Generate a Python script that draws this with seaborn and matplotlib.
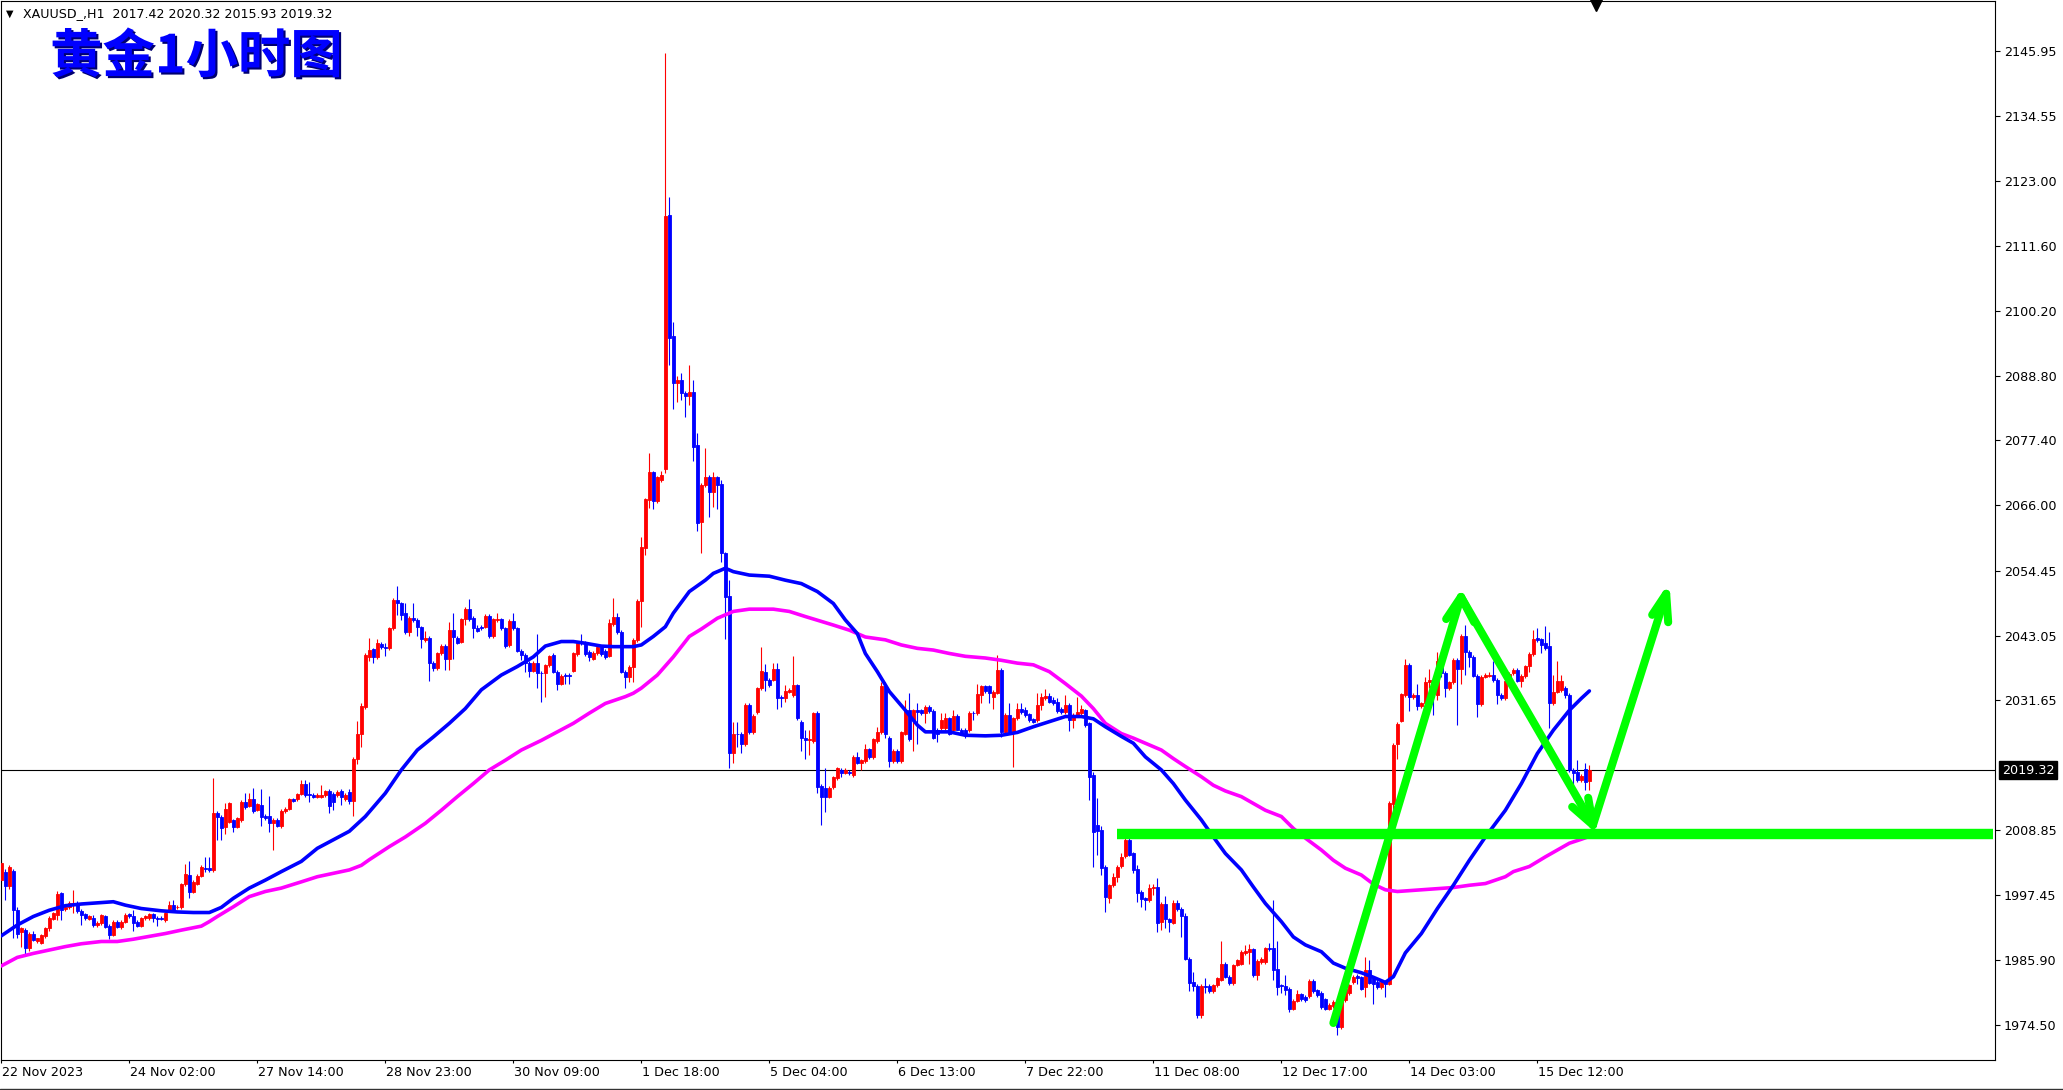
import numpy as np
import matplotlib
matplotlib.use("Agg")
import matplotlib.pyplot as plt
import matplotlib.patheffects as pe
import matplotlib.transforms as mtransforms
from matplotlib.lines import Line2D
import seaborn as sns

# XAUUSD H1 candles, bar 0 = first visible bar
opens = [
    2000.0, 2001.5, 1998.9, 2001.6, 1994.7, 1990.8, 1991.2, 1988.0, 1990.5, 1989.2,
    1989.0, 1990.1, 1991.5, 1993.2, 1993.9, 1997.7, 1995.0, 1995.3, 1995.6, 1996.0,
    1994.6, 1994.0, 1993.2, 1993.4, 1992.1, 1992.4, 1993.6, 1991.9, 1990.3, 1992.7,
    1991.7, 1992.7, 1994.0, 1993.7, 1992.6, 1992.0, 1993.3, 1993.3, 1994.0, 1993.4,
    1993.3, 1993.0, 1994.7, 1995.6, 1995.2, 1995.2, 1999.3, 2000.9, 1998.0, 1999.4,
    2000.8, 2002.2, 2002.2, 2001.8, 2011.9, 2011.2, 2009.3, 2010.3, 2010.5, 2009.4,
    2010.6, 2013.8, 2013.1, 2014.2, 2012.4, 2013.2, 2011.3, 2011.3, 2010.0, 2010.6,
    2009.5, 2012.1, 2012.6, 2014.2, 2014.2, 2015.2, 2016.9, 2015.2, 2015.0, 2014.7,
    2014.7, 2014.9, 2015.7, 2015.2, 2015.0, 2015.7, 2014.3, 2015.6, 2014.0, 2021.3,
    2025.8, 2030.5, 2039.3, 2040.6, 2039.2, 2041.6, 2041.0, 2040.8, 2044.3, 2049.3,
    2048.7, 2047.0, 2043.7, 2046.2, 2045.8, 2044.5, 2042.2, 2042.6, 2038.2, 2037.3,
    2039.9, 2041.2, 2038.9, 2044.1, 2042.7, 2042.0, 2045.9, 2047.7, 2046.2, 2044.3,
    2044.6, 2044.6, 2046.5, 2043.0, 2045.8, 2045.9, 2044.3, 2041.4, 2045.7, 2044.3,
    2040.4, 2039.6, 2038.2, 2036.9, 2038.2, 2036.5, 2036.4, 2037.8, 2039.6, 2036.7,
    2034.6, 2036.1, 2036.1, 2036.9, 2039.8, 2041.8, 2041.8, 2040.2, 2039.0, 2040.0,
    2041.0, 2040.4, 2039.5, 2045.1, 2046.4, 2043.7, 2036.7, 2035.8, 2037.5, 2042.3,
    2049.2, 2058.5, 2066.9, 2071.8, 2066.7, 2070.4, 2072.4, 2117.1, 2095.8, 2087.5,
    2088.1, 2085.8, 2085.3, 2086.0, 2076.6, 2063.1, 2069.5, 2071.0, 2068.4, 2070.9,
    2069.8, 2057.5, 2050.0, 2022.4, 2025.8, 2025.8, 2024.0, 2030.8, 2026.0, 2029.6,
    2033.8, 2036.6, 2035.3, 2035.3, 2037.1, 2032.3, 2032.0, 2033.2, 2032.6, 2034.3,
    2027.9, 2025.0, 2024.7, 2024.5, 2029.4, 2016.6, 2016.2, 2014.7, 2016.4, 2017.9,
    2019.4, 2018.9, 2019.1, 2018.5, 2021.7, 2020.7, 2020.9, 2023.0, 2021.7, 2024.5,
    2026.0, 2034.1, 2025.1, 2020.9, 2022.8, 2021.0, 2025.8, 2029.9, 2028.2, 2029.9,
    2029.9, 2029.4, 2030.5, 2029.8, 2026.5, 2026.7, 2026.7, 2028.5, 2026.4, 2028.9,
    2026.5, 2026.5, 2026.4, 2029.5, 2029.4, 2032.6, 2034.1, 2034.1, 2032.3, 2033.0,
    2037.0, 2026.0, 2029.1, 2026.0, 2028.5, 2030.2, 2029.9, 2029.2, 2028.3, 2028.2,
    2030.8, 2032.0, 2032.4, 2031.7, 2031.4, 2030.2, 2029.6, 2030.8, 2028.2, 2029.1,
    2029.4, 2029.9, 2027.6, 2018.5, 2009.7, 2008.8, 2002.4, 1996.8, 1999.1, 2000.5,
    2002.5, 2004.2, 2007.1, 2004.7, 2001.9, 1998.0, 1996.8, 1996.5, 1998.7, 1998.8,
    1992.7, 1995.8, 1993.1, 1992.5, 1996.0, 1995.0, 1993.6, 1986.2, 1982.1, 1981.4,
    1976.3, 1981.4, 1981.4, 1980.4, 1981.5, 1982.5, 1985.3, 1983.0, 1981.9, 1985.1,
    1985.3, 1987.2, 1987.4, 1987.8, 1983.3, 1985.6, 1985.6, 1988.0, 1988.0, 1984.3,
    1981.5, 1981.4, 1980.9, 1977.4, 1978.8, 1979.9, 1979.4, 1979.6, 1982.3, 1980.6,
    1980.1, 1979.0, 1977.4, 1977.8, 1978.6, 1974.1, 1978.9, 1980.1, 1982.1, 1983.1,
    1982.9, 1981.2, 1984.2, 1982.7, 1982.1, 1981.2, 1982.2, 1981.8, 2013.4, 2024.0,
    2028.1, 2032.6, 2037.9, 2032.2, 2032.6, 2030.6, 2031.1, 2034.9, 2035.2, 2032.6,
    2038.5, 2036.5, 2033.8, 2034.9, 2038.8, 2037.1, 2043.0, 2040.2, 2039.3, 2035.9,
    2031.0, 2035.8, 2036.0, 2036.1, 2035.2, 2032.6, 2032.0, 2035.1, 2036.4, 2037.0,
    2035.1, 2035.9, 2037.7, 2039.8, 2042.6, 2042.4, 2041.7, 2041.2, 2031.2, 2033.2,
    2033.5, 2033.8, 2032.6, 2019.4, 2019.1, 2017.6, 2019.5, 2017.42,
]
highs = [
    2003.4, 2002.0, 2002.7, 2002.0, 1995.3, 1991.7, 1991.6, 1990.9, 1991.0, 1989.9,
    1990.6, 1991.8, 1993.6, 1994.4, 1998.1, 1998.0, 1995.6, 1996.4, 1998.2, 1996.4,
    1994.9, 1994.3, 1993.9, 1993.8, 1992.8, 1994.1, 1993.9, 1992.2, 1993.0, 1993.0,
    1993.0, 1994.2, 1994.3, 1994.7, 1992.9, 1993.5, 1993.8, 1994.3, 1994.3, 1993.7,
    1993.6, 1994.4, 1996.3, 1996.5, 1995.6, 1999.5, 2002.8, 2003.4, 2000.0, 2001.1,
    2002.6, 2004.0, 2004.1, 2018.0, 2012.2, 2011.5, 2013.5, 2013.8, 2010.8, 2011.2,
    2014.1, 2015.3, 2015.3, 2016.2, 2013.6, 2016.0, 2011.6, 2014.8, 2010.9, 2010.9,
    2012.5, 2012.9, 2014.5, 2014.5, 2015.4, 2017.7, 2017.7, 2017.3, 2015.3, 2015.3,
    2016.7, 2015.9, 2016.0, 2015.5, 2015.8, 2016.0, 2015.3, 2016.0, 2021.6, 2028.1,
    2031.1, 2039.9, 2042.7, 2040.9, 2042.4, 2041.9, 2041.7, 2044.6, 2049.6, 2051.8,
    2049.0, 2048.8, 2046.5, 2048.8, 2046.1, 2044.8, 2043.9, 2042.9, 2038.5, 2040.2,
    2041.5, 2041.5, 2045.5, 2047.0, 2043.0, 2046.2, 2048.1, 2049.4, 2046.5, 2044.9,
    2044.9, 2046.8, 2046.8, 2046.2, 2047.0, 2046.2, 2044.6, 2046.0, 2047.0, 2044.6,
    2040.7, 2039.9, 2038.5, 2038.5, 2043.4, 2036.8, 2038.1, 2039.7, 2039.9, 2037.0,
    2036.2, 2036.4, 2036.4, 2040.2, 2041.9, 2043.3, 2042.1, 2040.5, 2040.3, 2041.2,
    2041.3, 2040.7, 2045.9, 2049.6, 2047.1, 2044.0, 2037.0, 2037.9, 2042.6, 2049.5,
    2060.4, 2067.3, 2075.2, 2072.1, 2071.1, 2072.1, 2145.6, 2120.3, 2098.3, 2088.7,
    2089.3, 2086.1, 2090.6, 2088.0, 2078.7, 2069.9, 2076.0, 2071.3, 2071.8, 2071.2,
    2070.4, 2057.8, 2052.9, 2027.9, 2027.9, 2026.1, 2031.1, 2031.1, 2029.2, 2034.0,
    2041.1, 2038.0, 2035.6, 2038.2, 2038.2, 2032.6, 2034.3, 2033.8, 2039.5, 2034.6,
    2028.2, 2026.4, 2026.4, 2029.6, 2029.7, 2016.9, 2019.7, 2016.6, 2018.4, 2019.9,
    2019.7, 2019.7, 2019.4, 2022.0, 2022.6, 2021.4, 2024.0, 2023.3, 2025.1, 2027.0,
    2034.9, 2034.9, 2025.4, 2023.0, 2023.1, 2026.2, 2031.7, 2032.9, 2030.2, 2031.1,
    2030.2, 2030.8, 2030.9, 2030.1, 2026.8, 2029.4, 2029.4, 2028.8, 2029.9, 2029.2,
    2026.8, 2026.8, 2029.7, 2029.8, 2034.6, 2034.3, 2034.4, 2034.4, 2033.5, 2039.6,
    2037.3, 2029.4, 2031.1, 2028.8, 2031.1, 2031.1, 2030.5, 2029.5, 2028.6, 2032.9,
    2032.9, 2033.7, 2032.9, 2032.3, 2032.0, 2030.5, 2032.6, 2031.1, 2029.4, 2032.3,
    2030.8, 2030.2, 2027.9, 2019.1, 2014.4, 2009.5, 2002.7, 1999.4, 2001.2, 2002.7,
    2004.7, 2007.9, 2007.6, 2005.0, 2002.7, 1998.3, 1997.1, 1999.4, 1999.4, 2000.3,
    1996.1, 1997.2, 1993.4, 1996.5, 1996.5, 1995.3, 1994.2, 1986.5, 1983.9, 1981.7,
    1981.7, 1982.7, 1981.7, 1981.8, 1982.9, 1989.2, 1985.6, 1983.3, 1985.3, 1986.2,
    1987.7, 1988.6, 1988.8, 1988.1, 1986.1, 1986.4, 1988.3, 1988.9, 1996.5, 1989.3,
    1981.8, 1983.3, 1981.2, 1979.0, 1980.7, 1980.2, 1979.7, 1982.6, 1982.6, 1980.9,
    1980.4, 1979.3, 1978.3, 1978.9, 1978.9, 1979.2, 1981.2, 1981.8, 1983.3, 1983.4,
    1983.2, 1986.4, 1985.9, 1983.0, 1982.4, 1982.4, 1982.5, 2014.0, 2024.1, 2027.9,
    2033.0, 2039.0, 2038.2, 2032.9, 2034.6, 2031.4, 2035.7, 2037.1, 2035.5, 2040.2,
    2038.9, 2036.8, 2035.0, 2039.1, 2039.1, 2043.3, 2044.9, 2040.5, 2039.6, 2036.2,
    2036.1, 2036.4, 2036.7, 2038.6, 2035.5, 2032.9, 2035.4, 2036.6, 2037.3, 2037.3,
    2036.2, 2037.9, 2040.1, 2044.0, 2044.3, 2042.7, 2044.7, 2043.7, 2036.1, 2038.5,
    2036.1, 2034.1, 2032.9, 2019.7, 2021.1, 2018.6, 2020.7, 2020.32,
]
lows = [
    1999.5, 1996.5, 1998.5, 1989.8, 1989.8, 1988.3, 1986.8, 1987.6, 1989.2, 1988.9,
    1988.8, 1989.8, 1991.0, 1992.9, 1993.0, 1993.0, 1994.6, 1995.0, 1994.2, 1994.3,
    1992.1, 1992.9, 1992.9, 1991.7, 1991.8, 1992.1, 1991.5, 1989.6, 1990.1, 1991.5,
    1991.4, 1992.4, 1993.3, 1991.1, 1991.7, 1991.7, 1993.0, 1993.0, 1992.7, 1992.0,
    1992.9, 1992.7, 1994.4, 1994.4, 1994.9, 1994.9, 1999.0, 1996.8, 1997.7, 1999.1,
    2000.5, 2001.5, 2001.5, 2001.5, 2007.1, 2007.1, 2008.2, 2010.0, 2008.5, 2009.1,
    2010.3, 2012.6, 2012.8, 2011.9, 2012.1, 2009.5, 2010.6, 2008.4, 2005.3, 2009.3,
    2009.2, 2011.8, 2012.3, 2013.7, 2013.9, 2014.9, 2014.7, 2013.8, 2014.4, 2014.4,
    2014.4, 2014.6, 2011.8, 2012.3, 2014.7, 2013.3, 2013.9, 2013.4, 2011.3, 2020.4,
    2023.5, 2030.2, 2038.5, 2038.2, 2038.9, 2040.7, 2039.5, 2040.5, 2044.0, 2046.7,
    2045.8, 2043.4, 2043.0, 2045.5, 2043.0, 2040.9, 2041.9, 2035.1, 2036.8, 2037.0,
    2039.6, 2037.0, 2037.0, 2038.9, 2041.5, 2041.7, 2044.9, 2045.6, 2042.6, 2043.6,
    2044.1, 2044.3, 2042.7, 2042.7, 2045.5, 2044.0, 2040.9, 2041.1, 2044.0, 2040.1,
    2038.7, 2036.7, 2035.7, 2036.6, 2033.8, 2031.4, 2032.2, 2037.5, 2036.4, 2033.4,
    2034.3, 2034.6, 2034.6, 2036.6, 2039.5, 2041.4, 2039.5, 2038.5, 2038.7, 2039.7,
    2039.5, 2038.9, 2039.2, 2044.8, 2043.3, 2036.4, 2033.8, 2034.9, 2034.9, 2042.0,
    2044.6, 2057.2, 2065.5, 2065.4, 2066.4, 2070.1, 2071.6, 2090.7, 2083.0, 2084.1,
    2084.5, 2081.6, 2083.7, 2073.8, 2061.5, 2057.6, 2069.2, 2063.9, 2065.7, 2065.4,
    2056.0, 2042.4, 2019.7, 2020.7, 2023.5, 2022.3, 2023.6, 2025.7, 2025.7, 2029.3,
    2033.5, 2033.3, 2034.0, 2035.0, 2030.2, 2030.5, 2031.4, 2032.9, 2032.3, 2028.2,
    2022.8, 2021.3, 2022.0, 2024.2, 2015.3, 2009.7, 2012.0, 2014.4, 2016.1, 2017.6,
    2018.2, 2018.6, 2018.5, 2018.2, 2020.4, 2019.4, 2020.6, 2021.4, 2021.4, 2024.2,
    2025.7, 2025.1, 2020.0, 2020.6, 2020.7, 2020.7, 2025.5, 2024.5, 2022.8, 2023.9,
    2029.0, 2027.7, 2029.5, 2024.8, 2024.4, 2026.4, 2026.4, 2025.5, 2026.1, 2026.4,
    2025.5, 2025.1, 2026.1, 2028.2, 2029.1, 2031.1, 2033.0, 2031.1, 2030.2, 2032.7,
    2025.2, 2025.7, 2025.7, 2020.0, 2028.2, 2029.3, 2028.8, 2027.9, 2027.6, 2027.9,
    2029.9, 2031.7, 2031.1, 2030.8, 2029.4, 2029.3, 2029.3, 2026.3, 2026.7, 2028.8,
    2029.1, 2026.9, 2014.1, 2002.4, 2004.4, 2000.9, 1994.4, 1996.0, 1998.8, 1999.7,
    2002.2, 2003.9, 2004.2, 2001.3, 1996.2, 1995.2, 1994.7, 1996.2, 1997.4, 1990.9,
    1991.3, 1991.5, 1990.9, 1992.2, 1994.6, 1990.0, 1985.9, 1980.4, 1980.4, 1975.7,
    1975.7, 1980.1, 1980.1, 1980.1, 1981.2, 1982.2, 1982.7, 1981.6, 1981.6, 1984.8,
    1985.0, 1986.9, 1985.2, 1983.0, 1982.4, 1985.3, 1985.3, 1987.6, 1982.5, 1979.8,
    1980.1, 1979.8, 1976.8, 1977.1, 1978.5, 1978.7, 1978.6, 1979.3, 1980.1, 1979.5,
    1977.4, 1977.1, 1977.1, 1977.5, 1972.7, 1973.8, 1978.6, 1979.8, 1981.8, 1981.8,
    1980.6, 1979.4, 1981.7, 1978.2, 1980.9, 1980.9, 1979.4, 1981.5, 2012.3, 2021.4,
    2027.8, 2032.3, 2029.7, 2031.9, 2029.9, 2030.3, 2030.8, 2033.9, 2029.1, 2031.7,
    2035.8, 2032.2, 2033.5, 2034.6, 2027.3, 2034.6, 2036.1, 2037.5, 2035.8, 2028.8,
    2030.7, 2035.5, 2035.7, 2034.9, 2031.0, 2031.7, 2031.7, 2034.8, 2036.1, 2034.8,
    2034.0, 2035.6, 2036.7, 2039.5, 2042.0, 2039.9, 2040.5, 2026.7, 2030.9, 2032.9,
    2033.2, 2032.0, 2019.1, 2016.7, 2017.2, 2017.3, 2015.9, 2015.93,
]
closes = [
    2003.0, 1998.9, 2002.4, 1994.7, 1990.6, 1991.5, 1988.0, 1990.6, 1989.5, 1989.8,
    1990.3, 1991.5, 1993.4, 1994.2, 1997.6, 1994.7, 1995.3, 1996.0, 1995.9, 1994.6,
    1993.9, 1993.3, 1993.7, 1992.1, 1992.5, 1993.9, 1991.8, 1990.3, 1992.7, 1991.8,
    1992.7, 1993.9, 1993.6, 1992.5, 1992.0, 1993.3, 1993.6, 1994.0, 1993.3, 1993.2,
    1993.1, 1994.2, 1995.6, 1994.7, 1995.3, 1999.3, 2001.0, 1998.0, 1999.7, 2000.8,
    2002.4, 2002.0, 2001.8, 2011.8, 2011.1, 2009.1, 2012.6, 2013.5, 2009.3, 2010.9,
    2013.8, 2012.9, 2014.2, 2012.2, 2013.4, 2011.2, 2010.9, 2010.0, 2010.6, 2009.6,
    2012.2, 2012.6, 2014.2, 2014.0, 2015.2, 2016.9, 2015.0, 2015.0, 2014.7, 2015.0,
    2015.0, 2015.7, 2013.0, 2013.8, 2015.6, 2014.7, 2015.0, 2013.9, 2021.3, 2025.8,
    2030.7, 2039.6, 2040.5, 2039.2, 2041.7, 2041.0, 2040.8, 2044.3, 2049.3, 2048.7,
    2046.7, 2043.7, 2046.2, 2045.8, 2044.5, 2042.4, 2042.6, 2038.2, 2037.3, 2039.9,
    2041.2, 2038.9, 2044.1, 2042.8, 2041.8, 2045.9, 2047.8, 2045.9, 2044.3, 2043.9,
    2044.4, 2046.5, 2043.0, 2045.9, 2045.9, 2044.3, 2041.2, 2045.7, 2044.3, 2040.4,
    2039.6, 2038.2, 2036.9, 2038.2, 2036.4, 2036.4, 2037.8, 2039.5, 2036.7, 2034.6,
    2035.9, 2036.0, 2036.0, 2039.9, 2041.7, 2041.7, 2039.8, 2039.3, 2040.0, 2041.0,
    2039.8, 2039.2, 2045.2, 2046.4, 2043.6, 2036.7, 2035.8, 2037.6, 2042.3, 2049.2,
    2058.7, 2067.1, 2071.8, 2066.7, 2070.9, 2071.3, 2116.9, 2095.5, 2087.5, 2088.1,
    2085.7, 2085.3, 2086.0, 2076.3, 2062.9, 2069.6, 2071.0, 2068.3, 2070.9, 2069.5,
    2057.5, 2049.9, 2022.4, 2025.7, 2025.7, 2024.0, 2030.8, 2026.0, 2028.9, 2033.8,
    2036.8, 2035.2, 2034.3, 2037.1, 2032.0, 2032.0, 2033.3, 2033.5, 2034.3, 2028.5,
    2025.1, 2024.7, 2024.8, 2029.4, 2016.4, 2014.6, 2014.6, 2016.3, 2018.1, 2019.7,
    2018.8, 2019.4, 2018.8, 2021.7, 2020.7, 2021.1, 2023.0, 2021.7, 2024.8, 2026.1,
    2034.1, 2025.8, 2020.9, 2022.8, 2021.0, 2026.0, 2029.9, 2024.8, 2029.9, 2029.6,
    2029.4, 2030.5, 2029.8, 2025.1, 2025.8, 2028.2, 2028.5, 2025.8, 2028.9, 2026.5,
    2025.8, 2025.8, 2029.5, 2029.4, 2032.8, 2034.1, 2033.3, 2033.0, 2033.2, 2037.0,
    2026.0, 2029.1, 2026.0, 2028.5, 2030.2, 2029.6, 2029.1, 2028.2, 2027.9, 2030.8,
    2032.3, 2032.4, 2031.4, 2031.1, 2029.8, 2029.6, 2030.8, 2028.2, 2029.1, 2029.6,
    2030.1, 2027.3, 2018.2, 2008.4, 2008.7, 2002.1, 1997.0, 1999.1, 2000.6, 2002.4,
    2004.0, 2007.1, 2004.4, 2001.8, 1997.8, 1996.6, 1996.5, 1998.7, 1998.8, 1992.5,
    1995.8, 1993.1, 1992.7, 1996.0, 1994.9, 1993.6, 1986.2, 1981.9, 1981.4, 1976.3,
    1981.4, 1981.2, 1980.4, 1981.5, 1982.7, 1985.3, 1983.0, 1981.9, 1985.1, 1985.9,
    1987.4, 1987.6, 1987.8, 1983.3, 1985.8, 1986.1, 1988.0, 1987.9, 1984.1, 1981.2,
    1981.4, 1980.7, 1977.4, 1978.8, 1979.9, 1979.0, 1978.9, 1982.3, 1980.4, 1979.8,
    1977.7, 1977.4, 1978.0, 1978.6, 1974.2, 1978.9, 1980.9, 1981.5, 1983.0, 1982.7,
    1980.9, 1984.2, 1981.9, 1981.8, 1981.2, 1982.1, 1981.8, 2013.5, 2023.8, 2027.5,
    2032.7, 2037.9, 2032.2, 2032.6, 2030.6, 2031.1, 2034.9, 2035.2, 2034.2, 2038.5,
    2036.5, 2033.8, 2034.8, 2038.8, 2037.1, 2043.0, 2040.2, 2039.3, 2035.9, 2031.0,
    2035.8, 2036.1, 2036.1, 2035.2, 2032.6, 2032.0, 2035.1, 2036.3, 2037.0, 2035.1,
    2035.9, 2037.7, 2039.8, 2042.4, 2042.3, 2041.4, 2040.8, 2031.2, 2033.2, 2035.1,
    2035.1, 2032.6, 2019.4, 2018.8, 2017.6, 2018.3, 2017.3, 2019.32,
]

# moving averages, read at sample bars
fast_ma_bars = [0, 4, 8, 12, 16, 20, 24, 28, 31, 35, 40, 44, 48, 52, 55, 58, 62, 66, 70, 75,
                79, 83, 87, 91, 96, 100, 104, 108, 112, 116, 120, 125, 129, 133, 136, 140, 143, 146, 150, 153,
                158, 160, 163, 166, 168, 172, 176, 178, 181, 183, 187, 192, 196, 200, 204, 208, 211, 214, 216, 219,
                222, 226, 229, 231, 237, 241, 246, 250, 254, 258, 262, 266, 270, 273, 276, 280, 283, 286, 290, 293,
                296, 300, 303, 306, 310, 313, 316, 320, 323, 326, 330, 333, 336, 340, 343, 346, 348, 351, 355, 359,
                363, 367, 371, 376, 380, 384, 388, 392, 395, 397]
fast_ma_vals = [1990.2, 1992.1, 1993.6, 1994.7, 1995.5, 1995.8, 1996.0, 1996.2, 1995.6, 1995.0,
                1994.6, 1994.4, 1994.3, 1994.3, 1995.2, 1996.8, 1998.6, 2000.0, 2001.5, 2003.3,
                2005.6, 2007.1, 2008.6, 2011.2, 2015.3, 2019.4, 2022.9, 2025.2, 2027.6, 2030.2,
                2033.5, 2036.1, 2037.6, 2039.3, 2041.2, 2042.0, 2042.0, 2041.7, 2041.2, 2041.1,
                2041.1, 2041.4, 2042.9, 2044.6, 2047.0, 2050.8, 2052.8, 2054.0, 2054.9, 2054.3,
                2053.7, 2053.5, 2052.8, 2052.2, 2050.8, 2048.7, 2045.8, 2043.4, 2039.9, 2036.7,
                2033.2, 2029.9, 2027.3, 2026.1, 2026.1, 2025.5, 2025.4, 2025.5, 2026.0, 2027.0,
                2027.9, 2028.8, 2028.8, 2028.4, 2027.0, 2025.3, 2024.1, 2021.7, 2019.4, 2017.0,
                2014.1, 2010.6, 2007.6, 2004.7, 2001.8, 1998.8, 1995.9, 1992.7, 1990.0, 1988.6,
                1987.4, 1985.4, 1984.5, 1983.7, 1982.9, 1982.0, 1983.0, 1987.2, 1990.6, 1995.0,
                1999.1, 2003.5, 2007.6, 2012.3, 2017.0, 2022.3, 2026.4, 2029.9, 2032.0, 2033.3]

slow_ma_bars = [0, 4, 8, 12, 16, 20, 25, 29, 33, 37, 41, 45, 50, 52, 54, 58, 62, 66, 70, 75,
                79, 83, 87, 90, 92, 97, 101, 106, 110, 114, 118, 122, 126, 130, 135, 139, 143, 147, 151, 156,
                158, 160, 164, 168, 172, 175, 179, 183, 187, 193, 197, 201, 208, 212, 216, 221, 225, 229, 233, 237,
                241, 246, 250, 254, 258, 262, 266, 270, 273, 276, 280, 283, 286, 290, 293, 296, 300, 303, 306, 310,
                313, 316, 320, 323, 326, 330, 333, 336, 340, 343, 346, 349, 355, 363, 367, 371, 376, 378, 382, 386,
                389, 392, 395, 397]
slow_ma_vals = [1984.9, 1986.4, 1987.1, 1987.7, 1988.3, 1988.8, 1989.2, 1989.2, 1989.6, 1990.1,
                1990.6, 1991.2, 1991.9, 1992.7, 1993.6, 1995.3, 1997.1, 1998.0, 1998.6, 1999.7,
                2000.6, 2001.2, 2001.8, 2002.6, 2003.6, 2005.9, 2007.6, 2010.0, 2012.3, 2014.7,
                2017.0, 2019.4, 2021.1, 2022.9, 2024.6, 2026.1, 2027.6, 2029.4, 2031.1, 2032.3,
                2032.9, 2033.8, 2036.1, 2039.3, 2042.9, 2044.2, 2046.1, 2047.3, 2047.7, 2047.7,
                2047.3, 2046.4, 2044.9, 2044.0, 2042.8, 2042.3, 2041.4, 2040.8, 2040.5, 2039.9,
                2039.4, 2039.1, 2038.7, 2038.2, 2037.9, 2036.7, 2034.6, 2032.4, 2030.2, 2027.6,
                2025.8, 2025.0, 2024.1, 2022.9, 2021.4, 2020.0, 2018.2, 2016.7, 2015.7, 2014.7,
                2013.5, 2012.3, 2011.2, 2009.1, 2007.4, 2005.3, 2003.5, 2002.1, 2000.9, 1999.3,
                1998.3, 1998.0, 1998.3, 1998.7, 1999.1, 1999.4, 2000.6, 2001.5, 2002.4, 2004.1,
                2005.3, 2006.5, 2007.2, 2007.7]

last_price = 2019.32
support_level = 2008.1
ytick_vals = [2145.95, 2134.55, 2123.00, 2111.60, 2100.20, 2088.80, 2077.40, 2066.00,
              2054.45, 2043.05, 2031.65, 2008.85, 1997.45, 1985.90, 1974.50]
xtick_bars = [0, 32, 64, 96, 128, 160, 192, 224, 256, 288, 320, 352, 384]
xtick_labels = ['22 Nov 2023', '24 Nov 02:00', '27 Nov 14:00', '28 Nov 23:00', '30 Nov 09:00',
                '1 Dec 18:00', '5 Dec 04:00', '6 Dec 13:00', '7 Dec 22:00', '11 Dec 08:00',
                '12 Dec 17:00', '14 Dec 03:00', '15 Dec 12:00']
header = 'XAUUSD_,H1  2017.42 2020.32 2015.93 2019.32'
title = '黄金1小时图'

sns.set_theme(style="white")
plt.rcParams['font.family'] = ['DejaVu Sans', 'Noto Sans CJK SC']

W, H = 2063, 1090
fig = plt.figure(figsize=(W / 100, H / 100), dpi=100)
fig.patch.set_facecolor('white')
ax = fig.add_axes([1 / W, 30 / H, 1994 / W, 1059 / H])
ax.set_facecolor('white')

# candles
x = np.arange(len(closes))
o = np.array(opens)
c = np.array(closes)
col = np.where(c >= o, '#FF0000', '#0000FF')
ax.vlines(x, lows, highs, colors=col, linewidth=0.8, zorder=2)
ax.bar(x, c - o, bottom=o, width=0.6, color=col, edgecolor=col, linewidth=0.6, zorder=3)

ax.axhline(last_price, color='black', linewidth=0.8, zorder=1.5)

# moving averages
sns.lineplot(x=slow_ma_bars, y=slow_ma_vals, ax=ax, color='#FF00FF', linewidth=2.6, zorder=4)
sns.lineplot(x=fast_ma_bars, y=fast_ma_vals, ax=ax, color='#0000FF', linewidth=2.6, zorder=4)

# hand-drawn green annotations
green = '#00FF00'
ax.hlines(support_level, 278.8, 497.8, colors=green, linewidth=7.5, zorder=6)
path = [(333.0, 1974.85), (364.9, 2049.85), (397.9, 2009.7), (416.2, 2050.4)]
for (x0, y0), (x1, y1) in zip(path[:-1], path[1:]):
    ax.plot([x0, x1], [y0, y1], color=green, lw=5.8, solid_capstyle='round', zorder=7)
heads = [((361.2, 2045.96), (364.9, 2049.85), (368.2, 2045.4)),
         ((392.7, 2012.9), (397.9, 2009.7), (396.7, 2014.5)),
         ((412.7, 2046.7), (416.2, 2050.4), (416.7, 2045.4))]
for a, b, d in heads:
    ax.plot([a[0], b[0], d[0]], [a[1], b[1], d[1]], color=green, lw=5.8,
            solid_capstyle='round', solid_joinstyle='round', zorder=7)

# chart shift marker
ax.plot([398.7], [0.996], marker='v', markersize=9, color='black',
        transform=ax.get_xaxis_transform(), clip_on=False, zorder=10)

ax.set_xlim(-0.075, 498.4)
ax.set_ylim(1968.34, 2154.75)

ax.yaxis.tick_right()
ax.set_yticks(ytick_vals)
ax.set_yticklabels([f'{v:.2f}' for v in ytick_vals])
ax.set_xticks(xtick_bars)
ax.set_xticklabels(xtick_labels)
ax.tick_params(axis='y', right=True, left=False, labelright=True, labelleft=False,
               direction='out', length=3.5, width=0.8, pad=3, labelsize=9.2, colors='black')
ax.tick_params(axis='x', bottom=True, direction='out', length=2.5, width=0.8, pad=2,
               labelsize=9.2, colors='black')
shift = mtransforms.ScaledTranslation(1 / 100, 0, fig.dpi_scale_trans)
for lab in ax.get_xticklabels():
    lab.set_horizontalalignment('left')
    lab.set_transform(lab.get_transform() + shift)
ax.grid(False)
for s in ax.spines.values():
    s.set_color('black')
    s.set_linewidth(0.8)

# current price tag
trans = mtransforms.blended_transform_factory(ax.transAxes, ax.transData)
trans = trans + mtransforms.ScaledTranslation(7 / 100, 0, fig.dpi_scale_trans)
ax.text(1.0, last_price, f'{last_price:.2f}', transform=trans, ha='left', va='center',
        fontsize=9.2, color='white', clip_on=False, zorder=10,
        bbox=dict(boxstyle='square,pad=0.2', fc='black', ec='black'))

# header and title
fig.text(6 / W, 1 - 14 / H, '▼', fontsize=7, va='center', ha='left', color='black')
fig.text(23 / W, 1 - 14 / H, header, fontsize=9.1, va='center', ha='left', color='black')
fig.text(50 / W, 1 - 57 / H, title, fontsize=37.7, fontweight='bold',
         family=['Noto Sans CJK SC', 'DejaVu Sans'], color='#0000FF', va='center', ha='left',
         path_effects=[pe.withSimplePatchShadow(offset=(1.5, -1.5), shadow_rgbFace='#000070', alpha=1.0)])

# window edge at the bottom
fig.add_artist(Line2D([0, 1], [1.5 / H, 1.5 / H], transform=fig.transFigure, color='#333333', lw=1))

fig.savefig('out.png', dpi=100, facecolor='white')
